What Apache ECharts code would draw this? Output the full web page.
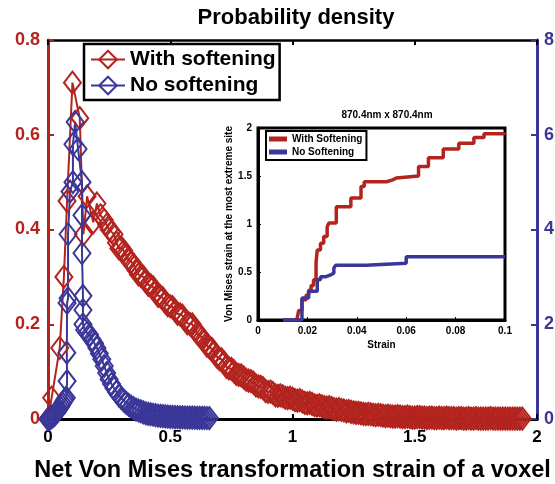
<!DOCTYPE html>
<html>
<head>
<meta charset="utf-8">
<script src="https://cdn.jsdelivr.net/npm/echarts@6/dist/echarts.min.js"></script>
<style>
  html,body{margin:0;padding:0;background:#fff;}
  #main{width:555px;height:484px;}
</style>
</head>
<body>
<div id="main"></div>
<script>
var RED = '#b3241f';
var BLUE = '#3b3799';
var FONT = '"Liberation Sans", Arial, sans-serif';

// main plot, [strain, density]
var withSoftening = [
  [0.0,0.0],[0.015,0.045],[0.048,0.15],[0.065,0.3],[0.078,0.46],[0.1,0.71],[0.13,0.635],
  [0.145,0.39],[0.16,0.47],[0.185,0.415],[0.2,0.455],[0.215,0.43],[0.23,0.42],
  [0.24,0.41],[0.25,0.40],[0.26,0.395],[0.27,0.39],[0.28,0.372],[0.29,0.36],[0.30,0.362],
  [0.31,0.355],[0.32,0.345],[0.33,0.335],[0.34,0.332],[0.35,0.326],[0.36,0.314],[0.37,0.305],
  [0.38,0.302],[0.39,0.3],[0.40,0.291],[0.41,0.283],[0.42,0.282],[0.43,0.278],[0.44,0.268],
  [0.45,0.26],[0.46,0.259],[0.47,0.255],[0.48,0.246],[0.49,0.24],[0.50,0.238],[0.51,0.236],
  [0.52,0.229],[0.53,0.222],[0.54,0.221],[0.55,0.218],[0.56,0.209],[0.57,0.202],[0.58,0.201],
  [0.59,0.2],[0.60,0.19],[0.61,0.181],[0.62,0.176],[0.63,0.172],[0.64,0.164],[0.65,0.155],
  [0.66,0.151],[0.67,0.148],[0.68,0.141],[0.69,0.132],[0.70,0.127],[0.71,0.126],[0.72,0.119],
  [0.73,0.11],[0.74,0.107],[0.75,0.106],[0.76,0.101],[0.77,0.095],[0.78,0.093],[0.79,0.092],
  [0.80,0.088],[0.81,0.083],[0.82,0.081],[0.83,0.08],[0.84,0.077],[0.85,0.071],[0.86,0.069],
  [0.87,0.068],[0.88,0.065],[0.89,0.059],[0.90,0.057],[0.91,0.058],[0.92,0.055],[0.93,0.05],
  [0.94,0.049],[0.95,0.05],[0.96,0.048],[0.97,0.045],[0.98,0.044],[0.99,0.045],[1.00,0.043],
  [1.01,0.04],[1.02,0.039],[1.03,0.04],[1.04,0.037],[1.05,0.034],[1.06,0.033],[1.07,0.034],
  [1.08,0.032],[1.09,0.029],[1.10,0.028],[1.11,0.029],[1.12,0.027],[1.13,0.025],[1.14,0.024],
  [1.15,0.025],[1.16,0.023],[1.17,0.021],[1.18,0.02],[1.19,0.021],[1.20,0.019],[1.21,0.018],
  [1.22,0.016],[1.23,0.017],[1.24,0.015],[1.25,0.014],[1.26,0.013],[1.27,0.013],[1.28,0.012],
  [1.29,0.011],[1.30,0.01],[1.31,0.011],[1.32,0.01],[1.33,0.009],[1.34,0.008],[1.35,0.009],
  [1.36,0.008],[1.37,0.007],[1.38,0.006],[1.39,0.007],[1.40,0.006],[1.41,0.005],[1.42,0.005],
  [1.43,0.006],[1.44,0.005],[1.45,0.004],[1.46,0.004],[1.47,0.005],[1.48,0.004],[1.49,0.003],
  [1.50,0.003],[1.51,0.004],[1.52,0.004],[1.53,0.003],[1.54,0.003],[1.55,0.002],[1.56,0.003],
  [1.57,0.003],[1.58,0.002],[1.59,0.002],[1.60,0.003],[1.61,0.002],[1.62,0.002],[1.63,0.003],
  [1.64,0.002],[1.65,0.002],[1.66,0.002],[1.67,0.001],[1.68,0.002],[1.69,0.002],[1.70,0.001],
  [1.71,0.001],[1.72,0.002],[1.73,0.001],[1.74,0.001],[1.75,0.002],[1.76,0.001],[1.77,0.001],
  [1.78,0.001],[1.79,0.001],[1.80,0.001],[1.81,0.002],[1.82,0.001],[1.83,0.001],[1.84,0.001],
  [1.85,0.001],[1.86,0.001],[1.87,0.001],[1.88,0.001],[1.89,0.001],[1.90,0.001],[1.91,0.001],
  [1.92,0.001],[1.93,0.001],[1.94,0.001]
];
var noSoftening = [
  [0,0],[0.005,0.01],[0.01,0.02],[0.015,0.04],[0.02,0.06],[0.025,0.08],[0.03,0.11],[0.035,0.14],
  [0.04,0.17],[0.045,0.21],[0.05,0.25],[0.055,0.29],[0.06,0.33],[0.065,0.38],[0.07,0.42],[0.075,0.45],
  [0.078,0.8],[0.077,1.4],[0.078,2.45],[0.082,2.55],[0.082,3.9],[0.09,4.8],[0.102,5.0],[0.102,5.8],
  [0.111,6.27],[0.123,5.7],[0.139,5.0],[0.139,4.3],[0.139,3.5],[0.143,2.6],[0.143,2.3],[0.143,2.0],
  [0.15,1.88],[0.16,1.82],[0.17,1.78],[0.18,1.68],[0.19,1.6],[0.20,1.5],[0.21,1.38],[0.22,1.26],
  [0.23,1.12],[0.24,0.97],[0.25,0.84],[0.26,0.74],[0.27,0.65],[0.28,0.57],[0.29,0.5],[0.30,0.44],
  [0.31,0.39],[0.32,0.34],[0.33,0.3],[0.34,0.26],[0.35,0.23],[0.36,0.2],[0.37,0.18],[0.38,0.16],
  [0.39,0.14],[0.40,0.12],[0.41,0.11],[0.42,0.1],[0.43,0.09],[0.44,0.08],[0.45,0.07],[0.46,0.065],
  [0.47,0.06],[0.48,0.055],[0.49,0.05],[0.50,0.046],[0.51,0.043],[0.52,0.04],[0.53,0.038],[0.54,0.036],
  [0.55,0.034],[0.56,0.032],[0.57,0.03],[0.58,0.029],[0.59,0.028],[0.60,0.027],[0.61,0.025],
  [0.62,0.024],[0.63,0.023],[0.64,0.022],[0.65,0.021],[0.66,0.02]
];

// inset, [strain, von mises strain at the most extreme site]
var insetWith = [
  [0.0102,0],[0.0157,0],[0.0165,0.1],[0.0178,0.21],[0.0195,0.26],[0.0205,0.31],[0.0215,0.36],
  [0.0225,0.42],[0.0235,0.6],[0.024,0.73],[0.0253,0.8],[0.0266,0.87],[0.028,0.97],[0.0287,1.01],
  [0.0317,1.18],[0.0376,1.27],[0.0417,1.39],[0.043,1.44],[0.052,1.46],[0.0546,1.48],[0.056,1.5],
  [0.065,1.6],[0.069,1.69],[0.075,1.78],[0.0813,1.84],[0.0874,1.9],[0.0915,1.94],[0.0997,1.95]
];
var insetWithout = [
  [0.0102,0],[0.0157,0],[0.0178,0.23],[0.0205,0.3],[0.024,0.42],[0.0253,0.45],[0.0273,0.47],
  [0.0294,0.49],[0.0307,0.54],[0.0314,0.57],[0.0437,0.59],[0.06,0.66],[0.1,0.66]
];

var myChart = echarts.init(document.getElementById('main'));

function bold(size, color){
  return {fontFamily: FONT, fontWeight: 'bold', fontSize: size, color: color || '#000'};
}

var option = {
  animation: false,
  backgroundColor: '#fff',
  title: [
    {text: 'Probability density', left: 291, top: 2, textAlign: 'center', textStyle: bold(22)},
    {text: '870.4nm x 870.4nm', left: 382, top: 105, textAlign: 'center', textStyle: bold(10)}
  ],
  legend: [
    {
      data: ['With softening', 'No softening'],
      orient: 'vertical', left: 84, top: 44,
      itemWidth: 34, itemHeight: 22, itemGap: 5,
      padding: [5, 4, 4, 6],
      borderColor: '#000', borderWidth: 2.5,
      backgroundColor: '#fff',
      textStyle: bold(21)
    },
    {
      data: ['With Softening', 'No Softening'],
      orient: 'vertical', left: 266, top: 131,
      icon: 'rect', itemWidth: 18, itemHeight: 5, itemGap: 3,
      padding: [3, 4, 3, 3],
      borderColor: '#000', borderWidth: 2,
      backgroundColor: '#fff',
      textStyle: bold(10)
    }
  ],
  grid: [
    {left: 48, right: 18, top: 40, bottom: 65, outerBoundsMode: 'none', containLabel: false},
    {left: 258, right: 50, top: 128, bottom: 164, outerBoundsMode: 'none', containLabel: false,
      show: true, borderColor: '#000', borderWidth: 3, backgroundColor: '#fff', z: 3}
  ],
  xAxis: [
    {
      type: 'value', gridIndex: 0, min: 0, max: 2, interval: 0.5,
      name: 'Net Von Mises transformation strain of a voxel',
      nameLocation: 'middle', nameGap: 40, nameTextStyle: bold(23.5),
      axisLine: {onZero: false, lineStyle: {color: '#000', width: 3}},
      axisTick: {inside: true, length: 5, lineStyle: {color: '#000', width: 2}},
      axisLabel: Object.assign({margin: 10}, bold(17)),
      splitLine: {show: false}
    },
    {
      type: 'value', gridIndex: 0, min: 0, max: 2, interval: 0.5, position: 'top',
      axisLine: {onZero: false, lineStyle: {color: '#000', width: 2.5}},
      axisTick: {inside: true, length: 5, lineStyle: {color: '#000', width: 2}},
      axisLabel: {show: false},
      splitLine: {show: false}
    },
    {
      type: 'value', gridIndex: 1, min: 0, max: 0.1, interval: 0.02,
      name: 'Strain', nameLocation: 'middle', nameGap: 20, nameTextStyle: bold(10),
      axisLine: {onZero: false, lineStyle: {color: '#000', width: 3}},
      axisTick: {inside: true, length: 3, lineStyle: {color: '#000'}},
      axisLabel: Object.assign({margin: 6}, bold(10)),
      splitLine: {show: false},
      z: 4
    }
  ],
  yAxis: [
    {
      type: 'value', gridIndex: 0, min: 0, max: 0.8, interval: 0.2,
      axisLine: {show: true, onZero: false, lineStyle: {color: RED, width: 3}},
      axisTick: {show: true, inside: true, length: 6, lineStyle: {color: RED, width: 2}},
      axisLabel: Object.assign({margin: 8}, bold(18, RED)),
      splitLine: {show: false}
    },
    {
      type: 'value', gridIndex: 0, min: 0, max: 8, interval: 2, position: 'right',
      axisLine: {show: true, onZero: false, lineStyle: {color: BLUE, width: 3}},
      axisTick: {show: true, inside: true, length: 6, lineStyle: {color: BLUE, width: 2}},
      axisLabel: Object.assign({margin: 7}, bold(18, BLUE)),
      splitLine: {show: false}
    },
    {
      type: 'value', gridIndex: 1, min: 0, max: 2, interval: 0.5,
      name: 'Von Mises strain at the most extreme site',
      nameLocation: 'middle', nameRotate: 90, nameGap: 14, nameTextStyle: bold(10),
      axisLine: {show: true, onZero: false, lineStyle: {color: '#000', width: 3}},
      axisTick: {show: true, inside: true, length: 3, lineStyle: {color: '#000'}},
      axisLabel: Object.assign({margin: 6}, bold(10)),
      splitLine: {show: false},
      z: 4
    }
  ],
  series: [
    {
      name: 'With softening', type: 'line', xAxisIndex: 0, yAxisIndex: 0,
      data: withSoftening, color: RED,
      symbol: 'diamond', symbolSize: [17, 22],
      itemStyle: {color: 'rgba(255,255,255,0)', borderColor: RED, borderWidth: 2},
      lineStyle: {color: RED, width: 2}
    },
    {
      name: 'No softening', type: 'line', xAxisIndex: 0, yAxisIndex: 1,
      data: noSoftening, color: BLUE,
      symbol: 'diamond', symbolSize: [17, 22],
      itemStyle: {color: 'rgba(255,255,255,0)', borderColor: BLUE, borderWidth: 2},
      lineStyle: {color: BLUE, width: 2}
    },
    {
      name: 'With Softening', type: 'line', xAxisIndex: 2, yAxisIndex: 2,
      data: insetWith, step: 'end', showSymbol: false, color: RED,
      lineStyle: {color: RED, width: 3.5}, z: 5
    },
    {
      name: 'No Softening', type: 'line', xAxisIndex: 2, yAxisIndex: 2,
      data: insetWithout, step: 'end', showSymbol: false, color: BLUE,
      lineStyle: {color: BLUE, width: 3.5}, z: 5
    }
  ]
};
myChart.setOption(option);
</script>
</body>
</html>
